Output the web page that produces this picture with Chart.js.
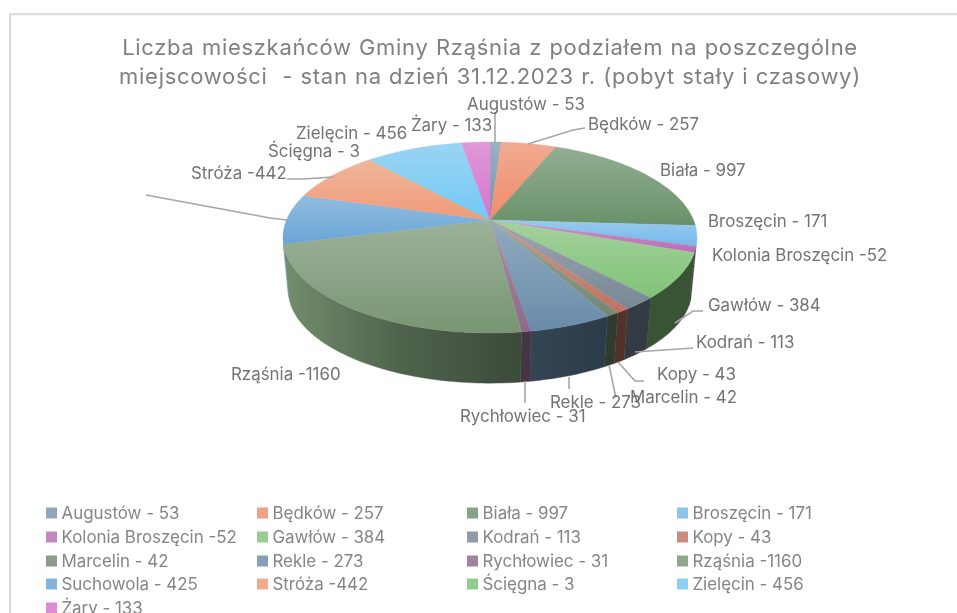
<!DOCTYPE html>
<html lang="pl">
<head>
<meta charset="utf-8">
<title>Liczba mieszkańców Gminy Rząśnia</title>
<script src="https://cdn.jsdelivr.net/npm/chart.js@4/dist/chart.umd.min.js"></script>
<style>
html,body{margin:0;padding:0;background:#fff;overflow:hidden}
#wrap{position:relative;width:957px;height:613px}
canvas{display:block;filter:blur(0.35px)}
</style>
</head>
<body>
<div id="wrap"><canvas id="c" width="957" height="613"></canvas></div>
<script>
const categories = ['Augustów','Będków','Biała','Broszęcin','Kolonia Broszęcin','Gawłów','Kodrań','Kopy','Marcelin','Rekle','Rychłowiec','Rząśnia','Suchowola','Stróża','Ścięgna','Zielęcin','Żary'];
const residents = [53,257,997,171,52,384,113,43,42,273,31,1160,425,442,3,456,133];
const legendLabels = ['Augustów - 53','Będków - 257','Biała - 997','Broszęcin - 171','Kolonia Broszęcin -52','Gawłów - 384','Kodrań - 113','Kopy - 43','Marcelin - 42','Rekle - 273','Rychłowiec - 31','Rząśnia -1160','Suchowola - 425','Stróża -442','Ścięgna - 3','Zielęcin - 456','Żary - 133'];
const sliceColors = ['#7894ac','#f08c69','#699169','#73b9eb','#b96eb4','#82c378','#788796','#be735f','#738773','#698caa','#8c6987','#789673','#69a5d7','#f09b78','#7dc378','#73c8f5','#d773cd'];
const titleLines = ['Liczba mieszkańców Gminy Rząśnia z podziałem na poszczególne','miejscowości  - stan na dzień 31.12.2023 r. (pobyt stały i czasowy)'];

/* label text left / vertical centre, by slice; Suchowola has its text cut away in the source */
const dataLabelAnchors = [[467,105],[588,125],[660,171],[708,222],[712,256],[708,306],[696,343],[657,375],[630,398],[550,403],[460,417],[231,375],null,[191,174],[268,152],[296,134],[411,126]];
const leaderPaths = [
  [[495,112],[495,142]],
  [[528,144],[573,130],[585,128]],
  [[675,323],[693,311],[703,311]],
  [[635,352],[693,348]],
  [[618,362],[635,381],[644,381]],
  [[609,365],[616,398]],
  [[569,377],[569,389]],
  [[525,381],[525,403]],
  [[146,195],[270,218],[287,220]],
  [[287,179],[303,179],[333,177]]
];
const legendColumns = [46,257,467,677];
const legendRows = [513.5,537.5,561.5,584.5,608.5];

const TEXT_FONT = '16.9px Inter, "Noto Sans", sans-serif';
const cx = 490, cy = 220, Rx = 203.5, A = 92.3, B = 0.183;
const DEPTH = 53, BOTTOM_SCALE = 0.975;
const RIM_FROM = 0.28, RIM_TO = 2.893;
function project(theta, bottom){
  const u = Math.cos(theta), v = Math.sin(theta), w = 1 - B*v;
  const s = bottom ? BOTTOM_SCALE : 1;
  return [cx + s*Rx*u/w, cy + (bottom ? DEPTH : 0) + s*A*v/w];
}
function rgb(hex){ return [1,3,5].map(i=>parseInt(hex.substr(i,2),16)); }
function css(c){ return 'rgb('+c.map(Math.round).join(',')+')'; }
function mix(c,d,t){ return c.map((x,i)=>x+(d[i]-x)*t); }
function anglesOf(a0,a1){
  const n = Math.max(2, Math.ceil((a1-a0)/0.02)), out=[];
  for(let i=0;i<=n;i++) out.push(a0+(a1-a0)*i/n);
  return out;
}
/* top face of a slice: takes angles and colour from the library's arc element */
Chart.ArcElement.prototype.draw = function(ctx){
  const base = rgb(this.options.backgroundColor);
  const pts = anglesOf(this.startAngle,this.endAngle).map(a=>project(a,false));
  const ys = pts.map(p=>p[1]).concat(cy);
  const g = ctx.createLinearGradient(0,Math.min(...ys),0,Math.max(...ys));
  g.addColorStop(0,css(mix(base,[240,240,240],0.3)));
  g.addColorStop(1,css(base));
  ctx.save();
  ctx.beginPath();
  ctx.moveTo(cx,cy);
  pts.forEach(p=>ctx.lineTo(p[0],p[1]));
  ctx.closePath();
  ctx.fillStyle=g; ctx.fill();
  ctx.strokeStyle=g; ctx.lineWidth=0.4; ctx.stroke();
  ctx.restore();
};
const rimShade = [[283,0.95],[400,0.66],[520,0.5],[600,0.43],[697,0.43]];
const pie3d = {
  id:'pie3d',
  beforeDraw(chart){
    chart.ctx.letterSpacing='0.7px';
    chart.ctx.wordSpacing='0.5px';
  },
  beforeDatasetsDraw(chart){
    const ctx=chart.ctx;
    ctx.letterSpacing='0px'; ctx.wordSpacing='0px';
    chart.getDatasetMeta(0).data.forEach(arc=>{
      const base=rgb(arc.options.backgroundColor);
      const a0=Math.max(arc.startAngle,RIM_FROM), a1=Math.min(arc.endAngle,RIM_TO);
      if(a1<=a0) return;
      const as=anglesOf(a0,a1);
      const g=ctx.createLinearGradient(283,0,697,0);
      rimShade.forEach(([x,f])=>g.addColorStop((x-283)/414,css(base.map(c=>c*f))));
      ctx.beginPath();
      as.forEach((a,i)=>{const p=project(a,false); i?ctx.lineTo(p[0],p[1]):ctx.moveTo(p[0],p[1]);});
      as.slice().reverse().forEach(a=>{const p=project(a,true); ctx.lineTo(p[0],p[1]);});
      ctx.closePath();
      ctx.fillStyle=g; ctx.fill();
      ctx.strokeStyle=g; ctx.lineWidth=0.4; ctx.stroke();
    });
  },
  afterDatasetsDraw(chart){
    const ctx=chart.ctx;
    ctx.save();
    /* frame */
    ctx.strokeStyle='#d9d9d9'; ctx.lineWidth=2;
    ctx.beginPath(); ctx.moveTo(10,613); ctx.lineTo(10,14.2); ctx.lineTo(957,14.2); ctx.stroke();
    /* leader lines */
    ctx.strokeStyle='#a6a6a6'; ctx.lineWidth=1.6;
    leaderPaths.forEach(path=>{
      ctx.beginPath();
      path.forEach((p,i)=> i?ctx.lineTo(p[0],p[1]):ctx.moveTo(p[0],p[1]));
      ctx.stroke();
    });
    /* data labels */
    ctx.font=TEXT_FONT; ctx.textAlign='left'; ctx.textBaseline='middle';
    ctx.fillStyle='#737373';
    chart.data.labels.forEach((l,i)=>{
      const at=dataLabelAnchors[i];
      if(at) ctx.fillText(l,at[0],at[1]);
    });
    /* legend */
    const colors=chart.data.datasets[0].backgroundColor;
    chart.data.labels.forEach((l,i)=>{
      const x=legendColumns[i%4], y=legendRows[Math.floor(i/4)];
      ctx.fillStyle=css(mix(rgb(colors[i]),[240,240,240],0.2));
      ctx.fillRect(x,y-6,11,11);
      ctx.fillStyle='#858585';
      ctx.fillText(l,x+15.5,y);
    });
    ctx.restore();
  },
  afterLayout(chart){
    if(chart.titleBlock){ chart.titleBlock.left=23; chart.titleBlock.right=957; }
  }
};
new Chart(document.getElementById('c'),{
  type:'pie',
  data:{labels:legendLabels,datasets:[{label:'Liczba mieszkańców',data:residents,backgroundColor:sliceColors,borderWidth:0}]},
  options:{
    responsive:false,animation:false,
    events:[],
    layout:{padding:{top:0,left:283,right:260,bottom:230}},
    plugins:{
      legend:{display:false},tooltip:{enabled:false},
      title:{display:true,text:titleLines,color:'#808080',padding:{top:33,bottom:10},
        font:{family:'Inter, "Noto Sans", sans-serif',size:22,weight:'400',lineHeight:1.36}}
    }
  },
  plugins:[pie3d]
});
</script>
</body>
</html>
